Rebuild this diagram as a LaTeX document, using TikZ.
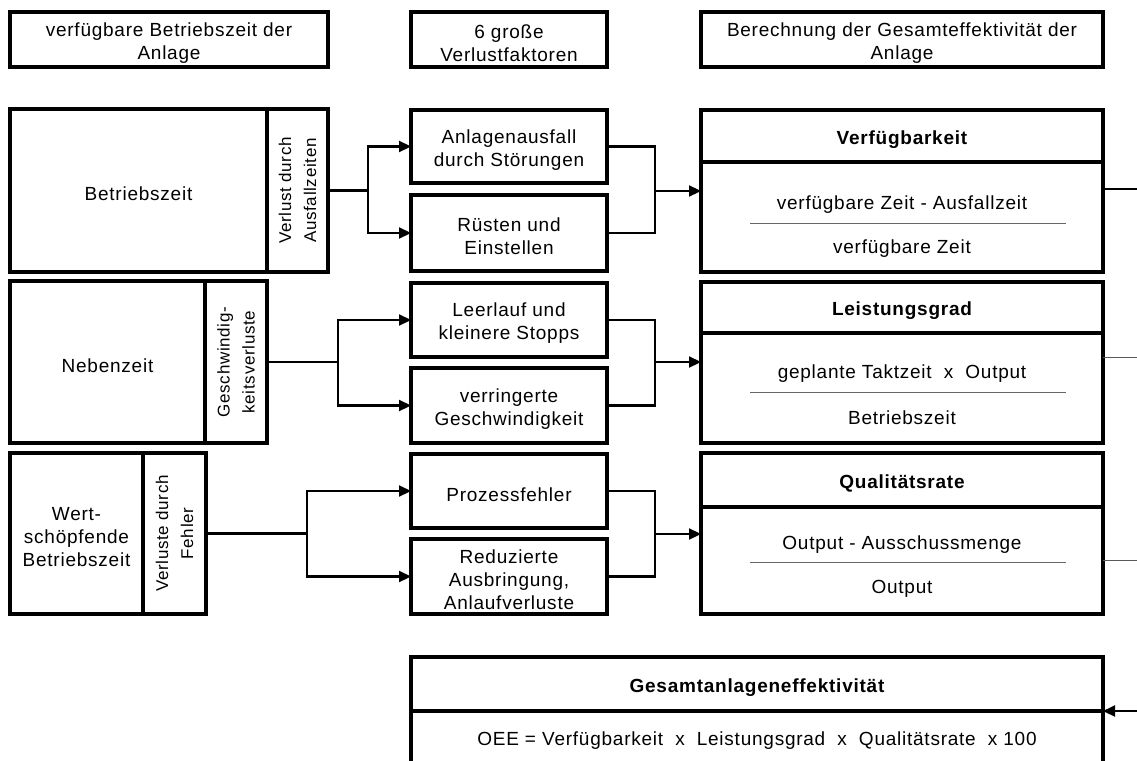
\documentclass[tikz,border=0pt]{standalone}
\usepackage{fontspec}
\setmainfont{Liberation Sans}[LetterSpace=4]
\usetikzlibrary{arrows.meta}
\tikzset{
  box/.style={draw, line width=3.4pt, inner sep=0pt, outer sep=0pt, anchor=north west},
  btext/.style={inner sep=0pt, align=center, yshift=-3.5pt, font=\fontsize{19}{23}\selectfont},
  ttl/.style={font=\bfseries\fontsize{19}{23}\selectfont},
  vtext/.style={rotate=90, align=center, inner sep=0pt, font=\fontsize{17}{25}\selectfont},
  ftext/.style={inner sep=0pt, yshift=-3pt, font=\fontsize{19}{23}\selectfont},
  conn/.style={line width=2.2pt},
  arr/.style={conn, -{Triangle[length=12pt,width=11pt]}},
  fracline/.style={line width=1pt, draw=black!60},
  exitblack/.style={line width=1.4pt},
  exitgray/.style={line width=1pt, draw=black!65},
}
\newcommand\mybox[7][]{%
  \node[box,minimum width={(#5-#3)*1pt},minimum height={(#6-#4)*1pt}] (#2) at (#3,#4) {};
  \node[btext,#1] (#2t) at (#2.center) {#7};}
\begin{document}
\begin{tikzpicture}[x=1pt,y=-1pt]
\clip (0,0) rectangle (1137,760);
\fill[white] (0,0) rectangle (1137,760);
% headers
\mybox{h1}{10}{12}{328}{67}{verfügbare Betriebszeit der\\Anlage}
\mybox{h2}{411}{12}{607}{67}{6 große\\Verlustfaktoren}
\mybox{h3}{701}{12}{1103}{67}{Berechnung der Gesamteffektivität der\\Anlage}
% left column
\mybox{l1}{10}{109}{267}{272}{Betriebszeit}
\mybox{l1s}{267}{109}{328}{272}{}
\node[vtext] (l1v) at (l1s.center) {Verlust durch\\Ausfallzeiten};
\mybox{l2}{10}{281}{205}{443}{Nebenzeit}
\mybox{l2s}{205}{281}{267}{443}{}
\node[vtext] (l2v) at (l2s.center) {Geschwindig-\\keitsverluste};
\mybox{l3}{10}{453}{143}{614}{Wert-\\schöpfende\\Betriebszeit}
\mybox{l3s}{143}{453}{206}{614}{}
\node[vtext] (l3v) at (l3s.center) {Verluste durch\\Fehler};
% middle column
\mybox{m1}{411}{110}{607}{183}{Anlagenausfall\\durch Störungen}
\mybox{m2}{411}{195}{607}{271}{Rüsten und\\Einstellen}
\mybox{m3}{411}{283}{607}{357}{Leerlauf und\\kleinere Stopps}
\mybox{m4}{411}{368}{607}{443}{verringerte\\Geschwindigkeit}
\mybox{m5}{411}{454}{607}{528}{Prozessfehler}
\mybox{m6}{411}{539}{607}{614}{Reduzierte\\Ausbringung,\\Anlaufverluste}
% right column
\mybox[ttl]{r1t}{701}{110}{1103}{162}{Verfügbarkeit}
\mybox{r1b}{701}{162}{1103}{272}{}
\node[ftext] (r1n) at (902,202) {verfügbare Zeit - Ausfallzeit};
\node[ftext] (r1d) at (902,246) {verfügbare Zeit};
\draw[fracline] (750,223) -- (1066,223);
\mybox[ttl]{r2t}{701}{282}{1103}{333}{Leistungsgrad}
\mybox{r2b}{701}{333}{1103}{443}{}
\node[ftext] (r2n) at (902,371) {geplante Taktzeit\ \ x\ \ Output};
\node[ftext] (r2d) at (902,415) {Betriebszeit};
\draw[fracline] (750,392) -- (1066,392);
\mybox[ttl]{r3t}{701}{453}{1103}{507}{Qualitätsrate}
\mybox{r3b}{701}{507}{1103}{614}{}
\node[ftext] (r3n) at (902,542) {Output - Ausschussmenge};
\node[ftext] (r3d) at (902,586) {Output};
\draw[fracline] (750,562) -- (1066,562);
% bottom
\mybox[ttl]{bt}{411}{657}{1103}{711}{Gesamtanlageneffektivität}
\node[box,minimum width=692pt,minimum height=60pt] (bb) at (411,711) {};
\node[ftext] (bbt) at (757,738) {OEE = Verfügbarkeit\ \ x\ \ Leistungsgrad\ \ x\ \ Qualitätsrate\ \ x 100};
% junctions
\coordinate (j1) at (368,190.5);
\coordinate (j2) at (338,362);
\coordinate (j3) at (307,533.5);
\coordinate (k1) at (655,191);
\coordinate (k2) at (655,362);
\coordinate (k3) at (655,534);
\coordinate (e1) at (1137,189);
\coordinate (e2) at (1137,357);
\coordinate (e3) at (1137,560);
\coordinate (e4) at (1137,711);
% left connectors
\draw[conn] (l1s.east) -- (j1);
\draw[arr] (j1) |- (m1.west);
\draw[arr] (j1) |- (m2.west);
\draw[conn] (l2s.east) -- (j2);
\draw[arr] (j2) |- (m3.west);
\draw[arr] (j2) |- (m4.west);
\draw[conn] (l3s.east) -- (j3);
\draw[arr] (j3) |- (m5.west);
\draw[arr] (j3) |- (m6.west);
% right connectors
\draw[conn] (m1.east) -| (k1);
\draw[conn] (m2.east) -| (k1);
\draw[arr] (k1) -- (k1 -| r1b.west);
\draw[conn] (m3.east) -| (k2);
\draw[conn] (m4.east) -| (k2);
\draw[arr] (k2) -- (k2 -| r2b.west);
\draw[conn] (m5.east) -| (k3);
\draw[conn] (m6.east) -| (k3);
\draw[arr] (k3) -- (k3 -| r3b.west);
% exits
\draw[exitblack] (e1 -| r1b.east) -- (e1);
\draw[exitgray] (e2 -| r2b.east) -- (e2);
\draw[exitgray] (e3 -| r3b.east) -- (e3);
\draw[arr] (e4) -- (e4 -| bt.east);
\end{tikzpicture}
\end{document}
